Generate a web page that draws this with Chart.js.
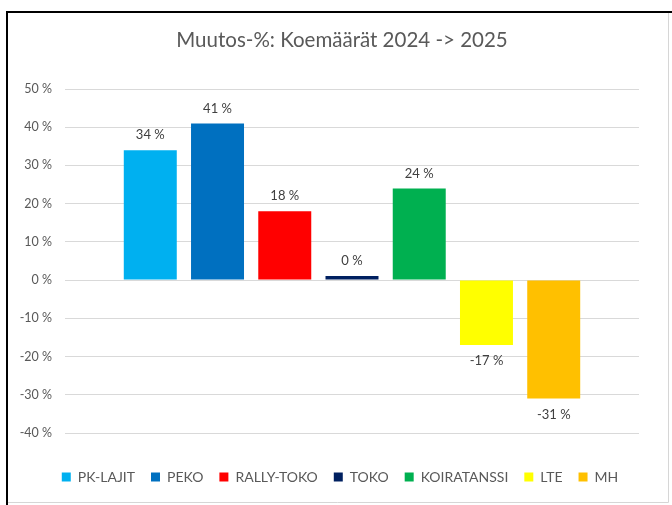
<!DOCTYPE html>
<html>
<head>
<meta charset="utf-8">
<script src="https://cdn.jsdelivr.net/npm/chart.js@4"></script>
<style>
  html, body { margin:0; padding:0; background:#fff; }
  canvas { display:block; }
</style>
</head>
<body>
<canvas id="chart" width="672" height="505"></canvas>
<script>
// Data
const categories = ['PK-LAJIT', 'PEKO', 'RALLY-TOKO', 'TOKO', 'KOIRATANSSI', 'LTE', 'MH'];
const changes    = [34, 41, 18, 0.4, 24, -17, -31];
const colors     = ['#00B0F0', '#0070C0', '#FF0000', '#002060', '#00B050', '#FFFF00', '#FFC000'];
const yMin = -40, yMax = 50, yStep = 10;
const titleText = 'Muutos-%: Koemäärät 2024 -> 2025';

Chart.defaults.font.family = 'Lato, "Open Sans", sans-serif';

// white background + frame like the original screenshot
const frame = {
  id: 'frame',
  beforeDraw(chart){
    const c = chart.ctx;
    c.save();
    c.fillStyle = '#fff';
    c.fillRect(0, 0, chart.width, chart.height);
    c.restore();
  },
  afterDraw(chart){
    const c = chart.ctx;
    c.save();
    c.strokeStyle = '#d6d6d6';
    c.lineWidth = 1;
    c.beginPath();
    c.moveTo(668.5, 12); c.lineTo(668.5, 502.5); c.lineTo(7, 502.5);
    c.stroke();
    c.strokeStyle = '#000';
    c.lineWidth = 2;
    c.beginPath();
    c.moveTo(7, 505); c.lineTo(7, 12); c.lineTo(672, 12);
    c.stroke();
    c.restore();
  }
};

// title + legend sit a bit right of the canvas centre in the original
const recenter = {
  id: 'recenter',
  afterLayout(chart){
    if(chart.titleBlock){ chart.titleBlock.left = 45; chart.titleBlock.right = 639; }
    if(chart.legend){ chart.legend.left = 41; chart.legend.right = 639; }
  }
};

// value labels above / below bars
const valueLabels = {
  id: 'valueLabels',
  afterDatasetsDraw(chart){
    const c = chart.ctx;
    c.save();
    c.font = '13px Lato, "Open Sans", sans-serif';
    c.fillStyle = '#404040';
    c.textAlign = 'center';
    c.textBaseline = 'middle';
    chart.data.datasets.forEach(function(ds, i){
      const bar = chart.getDatasetMeta(i).data[0];
      if(!bar) return;
      const v = ds.data[0];
      const y = v >= 0 ? bar.y - 15 : bar.y + 16;
      c.fillText(Math.round(v) + ' %', bar.x, y);
    });
    c.restore();
  }
};

new Chart(document.getElementById('chart'), {
  type: 'bar',
  data: {
    labels: [''],
    datasets: categories.map(function(name, i){
      return {
        label: name,
        data: [changes[i]],
        backgroundColor: colors[i],
        categoryPercentage: 0.82,
        barPercentage: 0.788,
        minBarLength: 4
      };
    })
  },
  options: {
    responsive: false,
    animation: false,
    devicePixelRatio: 1,
    layout: { padding: { left: 0, right: 33, top: 0, bottom: 11 } },
    plugins: {
      title: {
        display: true,
        text: titleText,
        color: '#595959',
        font: { size: 20.5, weight: 'normal' },
        padding: { top: 28, bottom: 36.4 }
      },
      legend: {
        position: 'bottom',
        labels: {
          color: '#595959',
          font: { size: 14 },
          boxWidth: 9,
          boxHeight: 9,
          padding: 16
        }
      },
      tooltip: { enabled: false }
    },
    scales: {
      x: {
        ticks: { display: false },
        grid: { display: false },
        border: { display: false },
        afterFit: function(s){ s.height = 21; }
      },
      y: {
        min: yMin,
        max: yMax,
        ticks: {
          stepSize: yStep,
          color: '#595959',
          font: { size: 12.5 },
          padding: 13,
          callback: function(v){ return v + ' %'; }
        },
        grid: { color: '#d9d9d9', drawTicks: false },
        border: { display: false },
        afterFit: function(s){ s.width = 65; }
      }
    }
  },
  plugins: [frame, recenter, valueLabels]
});
</script>
</body>
</html>
